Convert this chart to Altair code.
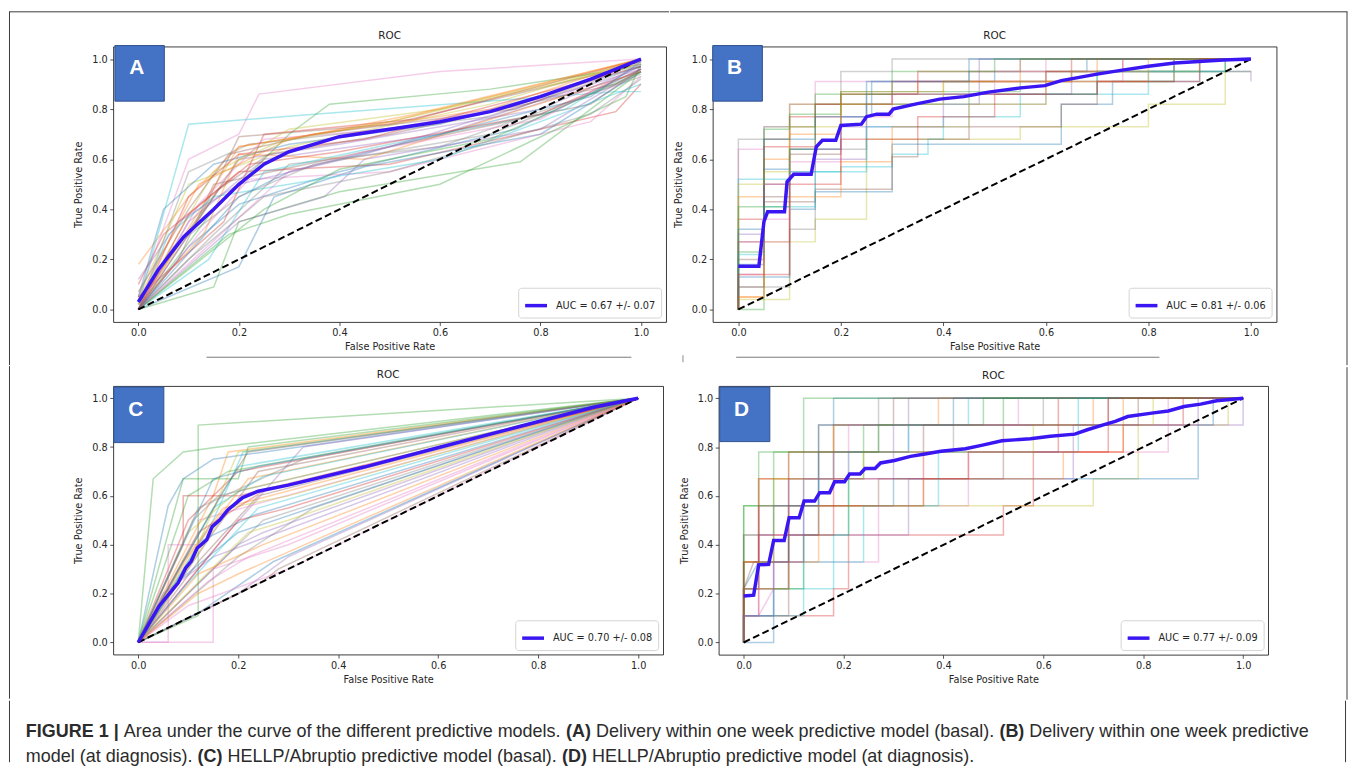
import altair as alt
import pandas as pd

TAB10 = ["#1f77b4", "#ff7f0e", "#2ca02c", "#d62728", "#9467bd",
         "#8c564b", "#e377c2", "#7f7f7f", "#bcbd22", "#17becf"]
MEAN_COLOR = "#3a16f2"
TICKS = [0.0, 0.2, 0.4, 0.6, 0.8, 1.0]
DIAG = [0.0, 1.0]
PANEL_TITLE = "ROC"

# ---------------- Panel A ----------------
A_LABEL = "AUC = 0.67 +/- 0.07"
A_MEAN_FPR = [0.0, 0.04, 0.09, 0.15, 0.2, 0.25, 0.3, 0.4, 0.5, 0.6, 0.7, 0.8, 0.9, 0.95, 1.0]
A_MEAN_TPR = [0.03, 0.16, 0.29, 0.40, 0.50, 0.58, 0.63, 0.69, 0.72, 0.75, 0.79, 0.85, 0.92, 0.96, 1.0]
A_RUNS = [
    [[0, 0], [0.1, 0.25], [0.2, 0.42], [0.4, 0.55], [0.75, 0.72], [1, 0.96]],
    [[0, 0.18], [0.1, 0.45], [0.2, 0.65], [0.5, 0.75], [1, 1.0]],
    [[0, 0], [0.15, 0.09], [0.2, 0.35], [0.4, 0.47], [0.76, 0.59], [1, 0.95]],
    [[0, 0.1], [0.05, 0.3], [0.2, 0.55], [0.5, 0.58], [0.95, 0.79], [1, 0.9]],
    [[0, 0], [0.1, 0.35], [0.25, 0.6], [0.6, 0.7], [1, 0.95]],
    [[0, 0.03], [0.13, 0.4], [0.2, 0.69], [0.5, 0.74], [1, 0.98]],
    [[0, 0.05], [0.1, 0.6], [0.2, 0.7], [0.24, 0.86], [0.6, 0.95], [1, 1.0]],
    [[0, 0], [0.15, 0.3], [0.3, 0.58], [0.6, 0.65], [1, 0.93]],
    [[0, 0.05], [0.1, 0.5], [0.3, 0.65], [0.7, 0.82], [1, 1.0]],
    [[0, 0.02], [0.1, 0.74], [0.35, 0.78], [0.95, 0.87], [1, 0.87]],
    [[0, 0], [0.2, 0.17], [0.27, 0.45], [0.45, 0.57], [0.8, 0.7], [1, 0.95]],
    [[0, 0.02], [0.13, 0.3], [0.2, 0.62], [0.45, 0.6], [1, 0.95]],
    [[0, 0], [0.15, 0.4], [0.3, 0.7], [0.38, 0.82], [0.7, 0.88], [1, 0.97]],
    [[0, 0.05], [0.17, 0.35], [0.25, 0.7], [0.55, 0.76], [1, 1.0]],
    [[0, 0], [0.2, 0.35], [0.37, 0.45], [0.45, 0.6], [0.8, 0.72], [1, 0.96]],
    [[0, 0], [0.08, 0.2], [0.15, 0.5], [0.45, 0.63], [0.9, 0.82], [1, 0.96]],
    [[0, 0], [0.12, 0.3], [0.22, 0.52], [0.5, 0.55], [0.9, 0.75], [1, 0.93]],
    [[0, 0], [0.1, 0.55], [0.22, 0.66], [0.7, 0.77], [1, 0.97]],
    [[0, 0.02], [0.2, 0.6], [0.3, 0.72], [0.6, 0.8], [1, 0.99]],
    [[0, 0], [0.14, 0.2], [0.25, 0.55], [0.5, 0.66], [0.85, 0.8], [1, 0.98]],
    [[0, 0.05], [0.05, 0.4], [0.15, 0.58], [0.3, 0.66], [0.6, 0.74], [1, 0.97]],
    [[0, 0], [0.2, 0.65], [0.35, 0.7], [0.7, 0.8], [1, 1.0]],
    [[0, 0], [0.18, 0.3], [0.3, 0.38], [0.6, 0.5], [0.97, 0.85], [1, 0.98]],
    [[0, 0], [0.1, 0.45], [0.2, 0.62], [0.45, 0.68], [1, 0.97]],
    [[0, 0], [0.05, 0.15], [0.2, 0.6], [0.4, 0.66], [0.8, 0.8], [1, 0.97]],
    [[0, 0.07], [0.1, 0.4], [0.18, 0.62], [0.35, 0.7], [0.75, 0.8], [1, 0.99]],
    [[0, 0], [0.12, 0.42], [0.25, 0.68], [0.5, 0.72], [0.85, 0.86], [1, 1.0]],
    [[0, 0], [0.1, 0.2], [0.25, 0.45], [0.5, 0.55], [0.9, 0.78], [1, 0.92]],
    [[0, 0.02], [0.15, 0.55], [0.28, 0.67], [0.5, 0.75], [1, 0.98]],
    [[0, 0], [0.06, 0.3], [0.15, 0.45], [0.3, 0.5], [0.6, 0.6], [1, 0.9]],
    [[0, 0], [0.2, 0.45], [0.3, 0.55], [0.6, 0.7], [0.9, 0.85], [1, 0.99]],
    [[0, 0.04], [0.12, 0.5], [0.3, 0.68], [0.55, 0.78], [1, 1.0]],
    [[0, 0], [0.25, 0.4], [0.4, 0.56], [0.7, 0.68], [1, 0.95]],
    [[0, 0], [0.1, 0.38], [0.22, 0.58], [0.4, 0.63], [0.8, 0.78], [1, 0.96]],
    [[0, 0.12], [0.08, 0.35], [0.2, 0.5], [0.45, 0.62], [1, 0.96]],
    [[0, 0], [0.16, 0.48], [0.26, 0.62], [0.5, 0.7], [0.95, 0.9], [1, 0.95]],
    [[0, 0], [0.3, 0.55], [0.45, 0.63], [0.8, 0.76], [1, 0.98]],
    [[0, 0.03], [0.07, 0.25], [0.2, 0.45], [0.35, 0.58], [0.7, 0.7], [1, 0.94]],
]

# ---------------- Panel B ----------------
B_LABEL = "AUC = 0.81 +/- 0.06"
B_MEAN_FPR = [0, 0.04, 0.05, 0.057, 0.09, 0.095, 0.108, 0.142, 0.152, 0.164, 0.19, 0.2, 0.24, 0.25, 0.27,
              0.294, 0.302, 0.345, 0.393, 0.44, 0.488, 0.551, 0.598, 0.63, 0.70, 0.749, 0.8, 0.851, 0.946, 1.0]
B_MEAN_TPR = [0.173, 0.173, 0.352, 0.39, 0.39, 0.51, 0.54, 0.54, 0.65, 0.676, 0.676, 0.735, 0.74, 0.77, 0.78,
              0.78, 0.80, 0.82, 0.84, 0.85, 0.868, 0.885, 0.894, 0.914, 0.94, 0.956, 0.971, 0.984, 0.996, 1.0]
B_RUNS = [
    [[0, 0], [0, 0.18], [0.05, 0.18], [0.05, 0.56], [0.1, 0.56], [0.1, 0.64], [0.2, 0.64], [0.2, 0.77], [0.26, 0.77],
     [0.26, 0.91], [0.5, 0.91], [0.5, 0.95], [0.68, 0.95], [0.68, 1], [1, 1]],
    [[0, 0], [0, 0.05], [0.05, 0.05], [0.05, 0.68], [0.1, 0.68], [0.1, 0.82], [0.2, 0.82], [0.2, 0.86], [0.35, 0.86],
     [0.35, 0.95], [0.7, 0.95], [0.7, 1], [1, 1]],
    [[0, 0], [0, 0.23], [0.05, 0.23], [0.05, 0.73], [0.15, 0.73], [0.15, 0.82], [0.45, 0.82], [0.45, 0.86], [0.7, 0.86],
     [0.7, 0.95], [0.95, 0.95], [0.95, 1], [1, 1]],
    [[0, 0], [0, 0.36], [0.05, 0.36], [0.05, 0.5], [0.1, 0.5], [0.1, 0.77], [0.2, 0.77], [0.2, 0.86], [0.35, 0.86],
     [0.35, 0.91], [0.6, 0.91], [0.6, 0.95], [0.75, 0.95], [0.75, 1], [1, 1]],
    [[0, 0], [0, 0.27], [0.1, 0.27], [0.1, 0.55], [0.15, 0.55], [0.15, 0.6], [0.25, 0.6], [0.25, 0.82], [0.47, 0.82],
     [0.47, 1], [1, 1]],
    [[0, 0], [0, 0.09], [0.05, 0.09], [0.05, 0.45], [0.1, 0.45], [0.1, 0.62], [0.2, 0.62], [0.2, 0.82], [0.3, 0.82],
     [0.3, 0.86], [0.6, 0.86], [0.6, 0.95], [0.85, 0.95], [0.85, 1], [1, 1]],
    [[0, 0], [0, 0.64], [0.05, 0.64], [0.05, 0.73], [0.15, 0.73], [0.15, 0.91], [0.35, 0.91], [0.35, 0.95], [0.6, 0.95],
     [0.6, 1], [1, 1]],
    [[0, 0], [0, 0.68], [0.1, 0.68], [0.1, 0.82], [0.2, 0.82], [0.2, 0.95], [0.3, 0.95], [0.3, 1], [1, 1]],
    [[0, 0], [0, 0.04], [0.1, 0.04], [0.1, 0.27], [0.15, 0.27], [0.15, 0.36], [0.25, 0.36], [0.25, 0.68], [0.55, 0.68],
     [0.55, 0.73], [0.8, 0.73], [0.8, 0.82], [0.95, 0.82], [0.95, 1], [1, 1]],
    [[0, 0], [0, 0.52], [0.1, 0.52], [0.1, 0.55], [0.2, 0.55], [0.2, 0.57], [0.3, 0.57], [0.3, 0.62], [0.37, 0.62],
     [0.37, 0.68], [0.4, 0.68], [0.4, 0.77], [0.55, 0.77], [0.55, 0.86], [0.7, 0.86], [0.7, 0.95], [0.85, 0.95],
     [0.85, 1], [1, 1]],
    [[0, 0], [0, 0.13], [0.1, 0.13], [0.1, 0.4], [0.15, 0.4], [0.15, 0.47], [0.3, 0.47], [0.3, 0.66], [0.63, 0.66],
     [0.63, 0.82], [0.73, 0.82], [0.73, 0.91], [0.9, 0.91], [0.9, 1], [1, 1]],
    [[0, 0], [0, 0.45], [0.05, 0.45], [0.05, 0.6], [0.1, 0.6], [0.1, 0.7], [0.2, 0.7], [0.2, 0.87], [0.4, 0.87],
     [0.4, 0.91], [0.55, 0.91], [0.55, 1], [1, 1]],
    [[0, 0], [0.05, 0], [0.05, 0.72], [0.1, 0.72], [0.1, 0.78], [0.2, 0.78], [0.2, 0.87], [0.55, 0.87], [0.55, 0.91],
     [0.85, 0.91], [0.85, 0.95], [1, 0.95]],
    [[0, 0], [0, 0.27], [0.05, 0.27], [0.05, 0.65], [0.15, 0.65], [0.15, 0.82], [0.3, 0.82], [0.3, 0.91], [0.65, 0.91],
     [0.65, 1], [1, 1]],
    [[0, 0], [0, 0.3], [0.05, 0.3], [0.05, 0.5], [0.1, 0.5], [0.1, 0.64], [0.2, 0.64], [0.2, 0.73], [0.4, 0.73],
     [0.4, 0.86], [0.65, 0.86], [0.65, 0.95], [1, 0.95], [1, 0.91]],
    [[0, 0], [0, 0.2], [0.05, 0.2], [0.05, 0.43], [0.15, 0.43], [0.15, 0.48], [0.3, 0.48], [0.3, 0.61], [0.35, 0.61],
     [0.35, 0.68], [0.45, 0.68], [0.45, 0.73], [0.63, 0.73], [0.63, 0.82], [0.7, 0.82], [0.7, 0.91], [0.85, 0.91],
     [0.85, 1], [1, 1]],
    [[0, 0], [0, 0.14], [0.05, 0.14], [0.05, 0.36], [0.1, 0.36], [0.1, 0.59], [0.2, 0.59], [0.2, 0.77], [0.3, 0.77],
     [0.3, 0.86], [0.5, 0.86], [0.5, 0.91], [0.75, 0.91], [0.75, 1], [1, 1]],
    [[0, 0], [0, 0.09], [0.1, 0.09], [0.1, 0.32], [0.15, 0.32], [0.15, 0.64], [0.25, 0.64], [0.25, 0.86], [0.45, 0.86],
     [0.45, 0.95], [0.55, 0.95], [0.55, 1], [1, 1]],
    [[0, 0], [0, 0.5], [0.05, 0.5], [0.05, 0.55], [0.1, 0.55], [0.1, 0.73], [0.2, 0.73], [0.2, 0.82], [0.4, 0.82],
     [0.4, 0.91], [0.65, 0.91], [0.65, 0.95], [0.9, 0.95], [0.9, 1], [1, 1]],
    [[0, 0], [0, 0.22], [0.05, 0.22], [0.05, 0.41], [0.15, 0.41], [0.15, 0.55], [0.25, 0.55], [0.25, 0.73],
     [0.45, 0.73], [0.45, 0.82], [0.6, 0.82], [0.6, 0.86], [0.8, 0.86], [0.8, 0.95], [0.95, 0.95], [0.95, 1], [1, 1]],
    [[0, 0], [0, 0.32], [0.05, 0.32], [0.05, 0.68], [0.15, 0.68], [0.15, 0.77], [0.25, 0.77], [0.25, 0.91],
     [0.45, 0.91], [0.45, 1], [1, 1]],
    [[0, 0], [0, 0.05], [0.05, 0.05], [0.05, 0.27], [0.1, 0.27], [0.1, 0.45], [0.2, 0.45], [0.2, 0.59], [0.3, 0.59],
     [0.3, 0.73], [0.45, 0.73], [0.45, 0.82], [0.6, 0.82], [0.6, 0.91], [0.8, 0.91], [0.8, 1], [1, 1]],
    [[0, 0], [0, 0.41], [0.1, 0.41], [0.1, 0.64], [0.15, 0.64], [0.15, 0.86], [0.3, 0.86], [0.3, 0.95], [0.5, 0.95],
     [0.5, 1], [1, 1]],
    [[0, 0], [0, 0.14], [0.1, 0.14], [0.1, 0.5], [0.2, 0.5], [0.2, 0.68], [0.35, 0.68], [0.35, 0.77], [0.5, 0.77],
     [0.5, 0.86], [0.7, 0.86], [0.7, 0.91], [0.9, 0.91], [0.9, 1], [1, 1]],
]

# ---------------- Panel C ----------------
C_LABEL = "AUC = 0.70 +/- 0.08"
C_MEAN_FPR = [0, 0.042, 0.08, 0.095, 0.106, 0.118, 0.137, 0.148, 0.163, 0.179, 0.209, 0.24, 0.3, 0.452, 0.605,
              0.757, 0.909, 1.0]
C_MEAN_TPR = [0, 0.149, 0.244, 0.305, 0.332, 0.386, 0.42, 0.474, 0.501, 0.542, 0.593, 0.619, 0.644, 0.718, 0.80,
              0.881, 0.962, 1.0]
C_RUNS = [
    [[0, 0], [0.06, 0.56], [0.09, 0.67], [0.15, 0.75], [1, 1]],
    [[0, 0], [0.15, 0.6], [0.18, 0.78], [1, 1]],
    [[0, 0], [0.03, 0.67], [0.09, 0.78], [0.16, 0.8], [1, 1]],
    [[0, 0], [0.1, 0.5], [0.2, 0.7], [1, 1]],
    [[0, 0], [0.2, 0.2], [0.3, 0.35], [1, 1]],
    [[0, 0], [0.12, 0.33], [0.24, 0.6], [1, 1]],
    [[0, 0], [0.06, 0], [0.06, 0.4], [0.12, 0.4], [0.12, 0.5], [1, 1]],
    [[0, 0], [0.15, 0.3], [0.25, 0.5], [1, 1]],
    [[0, 0], [0.12, 0.4], [0.2, 0.78], [1, 1]],
    [[0, 0], [0.15, 0.5], [0.21, 0.78], [1, 1]],
    [[0, 0], [0.12, 0.12], [0.27, 0.33], [1, 1]],
    [[0, 0], [0.09, 0.33], [0.17, 0.55], [1, 1]],
    [[0, 0], [0.12, 0.11], [0.12, 0.89], [1, 1]],
    [[0, 0], [0.09, 0.4], [0.09, 0.6], [0.2, 0.6], [1, 1]],
    [[0, 0], [0.18, 0.45], [0.33, 0.8], [1, 1]],
    [[0, 0], [0.15, 0.45], [0.24, 0.7], [1, 1]],
    [[0, 0], [0.15, 0], [0.15, 0.3], [0.3, 0.4], [1, 1]],
    [[0, 0], [0.2, 0.35], [0.35, 0.55], [1, 1]],
    [[0, 0], [0.18, 0.55], [0.3, 0.6], [1, 1]],
    [[0, 0], [0.08, 0.3], [0.2, 0.72], [1, 1]],
    [[0, 0], [0.13, 0.42], [0.23, 0.52], [1, 1]],
    [[0, 0], [0.1, 0.35], [0.22, 0.67], [1, 1]],
    [[0, 0], [0.09, 0.67], [0.2, 0.67], [0.22, 0.8], [1, 1]],
    [[0, 0], [0.12, 0.45], [0.25, 0.62], [1, 1]],
    [[0, 0], [0.2, 0.4], [0.25, 0.45], [1, 1]],
    [[0, 0], [0.25, 0.25], [0.28, 0.3], [1, 1]],
    [[0, 0], [0.1, 0.15], [0.3, 0.3], [1, 1]],
    [[0, 0], [0.12, 0.55], [0.33, 0.75], [1, 1]],
    [[0, 0], [0.1, 0.45], [0.2, 0.62], [1, 1]],
    [[0, 0], [0.15, 0.55], [0.25, 0.68], [1, 1]],
    [[0, 0], [0.08, 0.25], [0.2, 0.45], [1, 1]],
    [[0, 0], [0.12, 0.28], [0.25, 0.4], [1, 1]],
    [[0, 0], [0.1, 0.6], [0.18, 0.7], [1, 1]],
    [[0, 0], [0.2, 0.5], [0.3, 0.55], [1, 1]],
    [[0, 0], [0.05, 0.2], [0.15, 0.35], [1, 1]],
    [[0, 0], [0.17, 0.62], [0.22, 0.78], [1, 1]],
    [[0, 0], [0.14, 0.25], [0.22, 0.35], [1, 1]],
    [[0, 0], [0.11, 0.5], [0.16, 0.6], [1, 1]],
    [[0, 0], [0.22, 0.45], [0.3, 0.5], [1, 1]],
    [[0, 0], [0.09, 0.22], [0.24, 0.55], [1, 1]],
    [[0, 0], [0.15, 0.67], [0.24, 0.72], [1, 1]],
    [[0, 0], [0.12, 0.2], [0.2, 0.28], [1, 1]],
]

# ---------------- Panel D ----------------
D_LABEL = "AUC = 0.77 +/- 0.09"
D_MEAN_FPR = [0, 0.02, 0.03, 0.05, 0.06, 0.081, 0.091, 0.111, 0.121, 0.142, 0.152, 0.172, 0.182, 0.202, 0.212,
              0.233, 0.243, 0.263, 0.274, 0.302, 0.334, 0.363, 0.395, 0.444, 0.476, 0.517, 0.574, 0.614, 0.663,
              0.688, 0.72, 0.744, 0.769, 0.817, 0.85, 0.882, 0.915, 0.947, 1.0]
D_MEAN_TPR = [0.19, 0.194, 0.318, 0.32, 0.418, 0.418, 0.511, 0.511, 0.579, 0.579, 0.613, 0.613, 0.658, 0.658, 0.69,
              0.69, 0.712, 0.712, 0.735, 0.745, 0.762, 0.772, 0.783, 0.793, 0.807, 0.826, 0.834, 0.844, 0.853,
              0.871, 0.891, 0.905, 0.925, 0.939, 0.948, 0.966, 0.976, 0.99, 1.0]
D_RUNS = [
    [[0, 0], [0.06, 0], [0.06, 0.22], [0.09, 0.22], [0.09, 0.44], [0.15, 0.44], [0.15, 0.67], [0.18, 0.67],
     [0.18, 1], [1, 1]],
    [[0, 0], [0, 0.33], [0.03, 0.33], [0.03, 0.67], [0.18, 0.67], [0.18, 0.89], [0.7, 0.89], [0.7, 1], [1, 1]],
    [[0, 0], [0, 0.56], [0.03, 0.56], [0.03, 0.78], [0.12, 0.78], [0.12, 1], [1, 1]],
    [[0, 0], [0, 0.11], [0.18, 0.11], [0.18, 0.22], [0.21, 0.22], [0.21, 0.44], [0.52, 0.44], [0.52, 0.56],
     [0.58, 0.56], [0.58, 0.78], [0.76, 0.78], [0.76, 0.89], [0.88, 0.89], [0.88, 1], [1, 1]],
    [[0, 0], [0, 0.22], [0.03, 0.22], [0.03, 0.67], [0.18, 0.67], [0.18, 0.78], [0.33, 0.78], [0.33, 1], [1, 1]],
    [[0, 0], [0, 0.11], [0.09, 0.11], [0.09, 0.56], [0.27, 0.56], [0.27, 0.67], [0.52, 0.67], [0.52, 0.89],
     [0.73, 0.89], [0.73, 1], [1, 1]],
    [[0, 0], [0, 0.11], [0.03, 0.11], [0.06, 0.22], [0.06, 0.33], [0.27, 0.33], [0.27, 0.56], [0.45, 0.56],
     [0.45, 0.78], [0.85, 0.78], [0.85, 1], [1, 1]],
    [[0, 0], [0, 0.22], [0.09, 0.22], [0.09, 0.44], [0.15, 0.44], [0.15, 0.78], [0.42, 0.78], [0.42, 0.89],
     [0.6, 0.89], [0.6, 1], [1, 1]],
    [[0, 0], [0, 0.33], [0.06, 0.33], [0.06, 0.56], [0.7, 0.56], [0.7, 0.67], [0.79, 0.67], [0.79, 0.89],
     [0.97, 0.89], [0.97, 1], [1, 1]],
    [[0, 0], [0, 0.11], [0.06, 0.11], [0.06, 0.22], [0.18, 0.22], [0.18, 0.44], [0.21, 0.44], [0.21, 0.78],
     [0.33, 0.78], [0.33, 0.89], [0.45, 0.89], [0.45, 1], [1, 1]],
    [[0, 0], [0, 0.22], [0.03, 0.33], [0.12, 0.33], [0.12, 0.56], [0.3, 0.56], [0.3, 0.67], [0.91, 0.67],
     [0.91, 0.89], [0.94, 0.89], [0.94, 1], [1, 1]],
    [[0, 0], [0, 0.44], [0.03, 0.44], [0.03, 0.67], [0.09, 0.67], [0.09, 0.78], [0.18, 0.78], [0.18, 0.89],
     [0.39, 0.89], [0.39, 1], [1, 1]],
    [[0, 0], [0, 0.22], [0.12, 0.22], [0.12, 0.44], [0.21, 0.44], [0.21, 0.67], [0.24, 0.67], [0.24, 0.89],
     [0.52, 0.89], [0.52, 1], [1, 1]],
    [[0, 0], [0, 0.11], [0.03, 0.11], [0.03, 0.56], [0.36, 0.56], [0.36, 0.78], [0.63, 0.78], [0.63, 1], [1, 1]],
    [[0, 0], [0, 0.22], [0.06, 0.22], [0.06, 0.44], [0.33, 0.44], [0.33, 0.67], [0.66, 0.67], [0.66, 0.89],
     [1, 0.89], [1, 1]],
    [[0, 0], [0, 0.33], [0.09, 0.33], [0.09, 0.67], [0.15, 0.67], [0.15, 0.89], [0.3, 0.89], [0.3, 1], [1, 1]],
    [[0, 0], [0, 0.11], [0.03, 0.11], [0.03, 0.44], [0.09, 0.44], [0.09, 0.67], [0.21, 0.67], [0.21, 0.89],
     [0.55, 0.89], [0.55, 1], [1, 1]],
    [[0, 0], [0, 0.22], [0.03, 0.22], [0.03, 0.56], [0.12, 0.56], [0.12, 0.78], [0.27, 0.78], [0.27, 1], [1, 1]],
    [[0, 0], [0, 0.33], [0.06, 0.33], [0.06, 0.67], [0.24, 0.67], [0.24, 0.78], [0.58, 0.78], [0.58, 0.89],
     [0.82, 0.89], [0.82, 1], [1, 1]],
    [[0, 0], [0, 0.11], [0.12, 0.11], [0.12, 0.33], [0.24, 0.33], [0.24, 0.56], [0.39, 0.56], [0.39, 0.78],
     [0.67, 0.78], [0.67, 1], [1, 1]],
    [[0, 0], [0, 0.44], [0.06, 0.44], [0.06, 0.56], [0.15, 0.56], [0.15, 0.89], [0.42, 0.89], [0.42, 1], [1, 1]],
    [[0, 0], [0, 0.22], [0.09, 0.22], [0.09, 0.33], [0.15, 0.33], [0.15, 0.56], [0.36, 0.56], [0.36, 0.67],
     [0.64, 0.67], [0.64, 0.78], [0.76, 0.78], [0.76, 1], [1, 1]],
    [[0, 0], [0, 0.56], [0.06, 0.56], [0.06, 0.78], [0.27, 0.78], [0.27, 0.89], [0.48, 0.89], [0.48, 1], [1, 1]],
    [[0, 0], [0, 0.33], [0.03, 0.33], [0.03, 0.44], [0.18, 0.44], [0.18, 0.67], [0.45, 0.67], [0.45, 0.78],
     [0.73, 0.78], [0.73, 1], [1, 1]],
    [[0, 0], [0, 0.11], [0.06, 0.11], [0.06, 0.33], [0.12, 0.33], [0.12, 0.67], [0.3, 0.67], [0.3, 0.89],
     [0.91, 0.89], [0.91, 1], [1, 1]],
    [[0, 0], [0, 0.22], [0.02, 0.33], [0.09, 0.33], [0.09, 0.78], [0.36, 0.78], [0.36, 0.89], [0.79, 0.89],
     [0.79, 1], [1, 1]],
]

# ---------------- Caption ----------------
CAPTION_LINES = [
    [("FIGURE 1 |", True), ("Area under the curve of the different predictive models.", False), ("(A)", True),
     ("Delivery within one week predictive model (basal).", False), ("(B)", True),
     ("Delivery within one week predictive", False)],
    [("model (at diagnosis).", False), ("(C)", True), ("HELLP/Abruptio predictive model (basal).", False),
     ("(D)", True), ("HELLP/Abruptio predictive model (at diagnosis).", False)],
]

# Arial / Liberation Sans advance widths (1/1000 em)
REG_W = {' ': 278, '(': 333, ')': 333, '.': 278, '/': 278, '|': 260, 'A': 667, 'B': 667, 'C': 722, 'D': 722,
         'E': 667, 'F': 611, 'G': 778, 'H': 722, 'I': 278, 'L': 556, 'P': 667, 'R': 722, 'U': 722, 'a': 556,
         'b': 556, 'c': 500, 'd': 556, 'e': 556, 'f': 278, 'g': 556, 'h': 556, 'i': 222, 'j': 222, 'k': 500,
         'l': 222, 'm': 833, 'n': 556, 'o': 556, 'p': 556, 'r': 333, 's': 500, 't': 278, 'u': 556, 'v': 500,
         'w': 722, 'y': 500, '1': 556}
BOLD_W = {' ': 278, '(': 333, ')': 333, '|': 280, '1': 556, 'A': 722, 'B': 722, 'C': 722, 'D': 722, 'E': 667,
          'F': 611, 'G': 778, 'I': 278, 'R': 722, 'U': 722}

AX_FONT = "DejaVu Sans"
TXT = "#262626"
ONE = pd.DataFrame({"k": [0]})


def runs_frame(runs):
    rows = []
    for i, run in enumerate(runs):
        for j, (x, y) in enumerate(run):
            rows.append({"run": i, "k": j, "fpr": x, "tpr": y})
    return pd.DataFrame(rows)


def vrule(x, y1, y2, color="#3a3a3a", width=1.0):
    return alt.Chart(ONE).mark_rule(color=color, strokeWidth=width).encode(
        x=alt.value(x), y=alt.value(y1), y2=alt.value(y2))


def hrule(x1, x2, y, color="#3a3a3a", width=1.0):
    return alt.Chart(ONE).mark_rule(color=color, strokeWidth=width).encode(
        x=alt.value(x1), x2=alt.value(x2), y=alt.value(y))


def panel(letter, runs, mfpr, mtpr, label, w, h, box, title_y, extras):
    xsc = alt.Scale(domain=[-0.05, 1.05], nice=False, zero=False)
    ysc = alt.Scale(domain=[-0.05, 1.05], nice=False, zero=False)
    xax = alt.Axis(values=TICKS, format=".1f", title="False Positive Rate")
    yax = alt.Axis(values=TICKS, format=".1f", title="True Positive Rate")

    rdf = runs_frame(runs)
    mdf = pd.DataFrame([{"k": i, "fpr": x, "tpr": y, "label": label} for i, (x, y) in enumerate(zip(mfpr, mtpr))])
    ddf = pd.DataFrame({"fpr": DIAG, "tpr": DIAG})

    faint = alt.Chart(rdf).mark_line(strokeWidth=1.5, opacity=0.36).encode(
        x=alt.X("fpr:Q", scale=xsc, axis=xax),
        y=alt.Y("tpr:Q", scale=ysc, axis=yax),
        color=alt.Color("run:N", scale=alt.Scale(range=TAB10), legend=None),
        detail="run:N",
        order="k:Q",
    )
    diag = alt.Chart(ddf).mark_line(color="black", strokeWidth=2, strokeDash=[7, 3.5]).encode(
        x=alt.X("fpr:Q", scale=xsc), y=alt.Y("tpr:Q", scale=ysc))
    mean = alt.Chart(mdf).mark_line(strokeWidth=3.5).encode(
        x=alt.X("fpr:Q", scale=xsc), y=alt.Y("tpr:Q", scale=ysc), order="k:Q",
        stroke=alt.Stroke("label:N", scale=alt.Scale(range=[MEAN_COLOR]),
                          legend=alt.Legend(title=None, orient="bottom-right", offset=5, fillColor="white",
                                            strokeColor="#d4d4d4", cornerRadius=3, padding=5,
                                            symbolType="stroke", symbolStrokeWidth=3.5, symbolSize=484,
                                            labelFont=AX_FONT, labelFontSize=9.8, labelColor=TXT,
                                            labelOffset=7)))
    bx1, bx2, by1, by2 = box
    rect = alt.Chart(ONE).mark_rect(fill="#4472C4", stroke="#2F528F", strokeWidth=1).encode(
        x=alt.value(bx1), x2=alt.value(bx2), y=alt.value(by1), y2=alt.value(by2))
    txt = alt.Chart(ONE).mark_text(text=letter, color="white", fontSize=21, fontWeight="bold",
                                   font="Liberation Sans", align="center", baseline="middle").encode(
        x=alt.value(bx1 + 22), y=alt.value(by1 + 23))
    ttl = alt.Chart(ONE).mark_text(text=PANEL_TITLE, color=TXT, fontSize=10.5, font=AX_FONT,
                                   align="center", baseline="middle").encode(
        x=alt.value(w / 2), y=alt.value(title_y))
    layers = [faint, diag, mean] + extras + [rect, txt, ttl]
    return alt.layer(*layers).properties(width=w, height=h)


# panel geometry (plot areas): A 557x277.5, B 568x277.5, C 554x270.5, D 553.5x270.7
A = panel("A", A_RUNS, A_MEAN_FPR, A_MEAN_TPR, A_LABEL, 557, 277.5, (1.7, 51.5, -1, 55), -11, [
    vrule(-104.5, -35, 321),                 # outer frame, left
    hrule(-105, 560, -35),                   # outer frame, top
    hrule(94, 522, 313, color="#7a7a7a"),    # separator
])
B = panel("B", B_RUNS, B_MEAN_FPR, B_MEAN_TPR, B_LABEL, 568, 277.5, (0, 50, -1, 55), -11, [
    hrule(-43, 639.5, -35),                  # outer frame, top
    vrule(639, -35, 321),                    # outer frame, right
    hrule(23.6, 450, 313, color="#7a7a7a"),  # separator
    vrule(-30, 311, 318, color="#8a8a8a"),   # small tick
])
C = panel("C", C_RUNS, C_MEAN_FPR, C_MEAN_TPR, C_LABEL, 554, 270.5, (0.6, 51, 1, 57), -11, [
    vrule(-104.5, -20, 315),
    vrule(560, 0, 1, color="white"),
])
D = panel("D", D_RUNS, D_MEAN_FPR, D_MEAN_TPR, D_LABEL, 553.5, 270.7, (1, 51.5, 1, 56), -10, [
    vrule(633, -19, 316),
    vrule(-45, 0, 1, color="white"),
])

# caption (origin of this view lines up with the left edge of panel A's plot)
CAP_SIZE = 18.1
rows = []
for li, line in enumerate(CAPTION_LINES):
    x = -88.0
    for seg, bold in line:
        table = BOLD_W if bold else REG_W
        rows.append({"text": seg, "px": x, "py": [32, 57][li], "bold": bold})
        x += sum(table[c] for c in seg) / 1000 * CAP_SIZE + REG_W[' '] / 1000 * CAP_SIZE
cap_df = pd.DataFrame(rows)

cap_reg = alt.Chart(cap_df).transform_filter("!datum.bold").mark_text(
    font="Liberation Sans", fontSize=CAP_SIZE, color="#2b2b2b", align="left", baseline="middle").encode(
    x=alt.X("px:Q", scale=None), y=alt.Y("py:Q", scale=None), text="text:N")
cap_bold = alt.Chart(cap_df).transform_filter("datum.bold").mark_text(
    font="Liberation Sans", fontSize=CAP_SIZE, fontWeight="bold", color="#2b2b2b", align="left",
    baseline="middle").encode(
    x=alt.X("px:Q", scale=None), y=alt.Y("py:Q", scale=None), text="text:N")
caption = alt.layer(
    cap_reg, cap_bold, vrule(-104.5, 0, 62), vrule(1241.5, 0, 62)
).properties(width=1200, height=62, view=alt.ViewBackground(stroke="transparent"))

row1 = alt.hconcat(A, B, spacing=-1).resolve_scale(color="independent", stroke="independent") \
    .resolve_legend(stroke="independent")
row2 = alt.hconcat(C, D, spacing=3).resolve_scale(color="independent", stroke="independent") \
    .resolve_legend(stroke="independent")

chart = alt.vconcat(row1, row2, caption, spacing=-1).resolve_scale(
    color="independent", stroke="independent").resolve_legend(stroke="independent").properties(
    padding=0
).configure_view(
    stroke=TXT, strokeWidth=0.9
).configure_axis(
    labelFont=AX_FONT, labelFontSize=9.8, labelColor=TXT, tickColor=TXT, tickSize=3.5, tickWidth=0.8,
    labelPadding=2.5, domain=False, grid=False, titleFont=AX_FONT, titleFontSize=9.8,
    titleFontWeight="normal", titleColor=TXT
).configure_axisX(titlePadding=4).configure_axisY(titlePadding=8)

chart.save("out.html", embed_options={"renderer": "svg", "actions": False})
